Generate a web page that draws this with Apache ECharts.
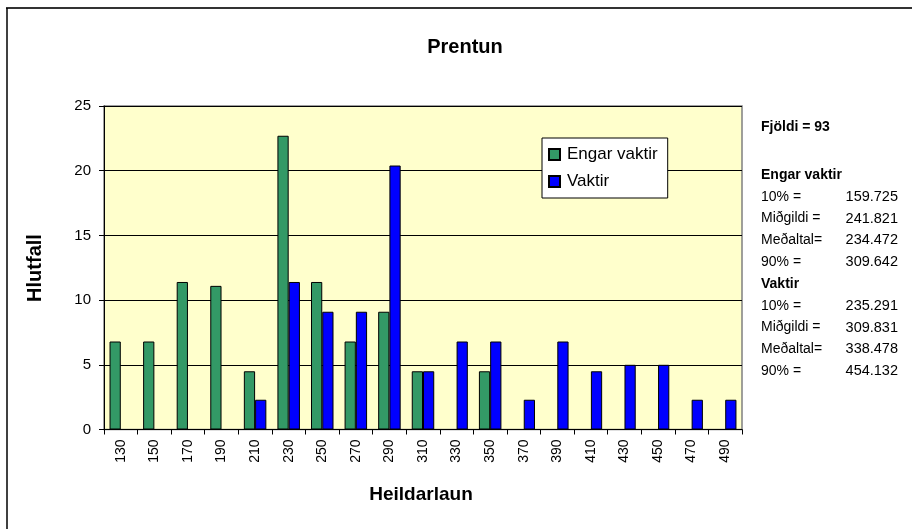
<!DOCTYPE html>
<html>
<head>
<meta charset="utf-8">
<script src="https://cdn.jsdelivr.net/npm/echarts@6/dist/echarts.min.js"></script>
<style>html,body{margin:0;padding:0;background:#fff}#c{width:912px;height:529px}</style>
</head>
<body>
<div id="c"></div>
<script>
const categories = ['130','150','170','190','210','230','250','270','290','310','330','350','370','390','410','430','450','470','490'];
const engarVaktir = [6.8, 6.8, 11.4, 11.1, 4.5, 22.7, 11.4, 6.8, 9.1, 4.5, 0, 4.5, 0, 0, 0, 0, 0, 0, 0];
const vaktir = [0, 0, 0, 0, 2.3, 11.4, 9.1, 9.1, 20.4, 4.5, 6.8, 6.8, 2.3, 6.8, 4.5, 5.0, 5.0, 2.3, 2.3];
const yTicks = [0, 5, 10, 15, 20, 25];
const statsHeader = 'Fjöldi = 93';
const statsEngarTitle = 'Engar vaktir';
const statsEngarLabels = ['10% =', 'Miðgildi =', 'Meðaltal=', '90% ='];
const statsEngarValues = ['159.725', '241.821', '234.472', '309.642'];
const statsVaktirTitle = 'Vaktir';
const statsVaktirLabels = ['10% =', 'Miðgildi =', 'Meðaltal=', '90% ='];
const statsVaktirValues = ['235.291', '309.831', '338.478', '454.132'];

const FONT = "'Liberation Sans', Arial, sans-serif";
const chart = echarts.init(document.getElementById('c'), null, {renderer: 'canvas'});

const graphics = [
  {type: 'line', shape: {x1: 6, y1: 8, x2: 912, y2: 8}, style: {stroke: '#333', lineWidth: 2}},
  {type: 'line', shape: {x1: 7, y1: 8, x2: 7, y2: 529}, style: {stroke: '#000', lineWidth: 1.5}},
  {type: 'text', x: 35, y: 268, rotation: Math.PI / 2, style: {text: 'Hlutfall', font: 'bold 20px ' + FONT, fill: '#000', textAlign: 'center', textVerticalAlign: 'middle'}},
  {type: 'text', x: 421, y: 495, style: {text: 'Heildarlaun', font: 'bold 19px ' + FONT, fill: '#000', textAlign: 'center', textVerticalAlign: 'middle'}}
];
const lineH = 21.8;
const sx = 761, vx = 898;
graphics.push({type: 'text', x: sx, y: 127, style: {text: statsHeader, font: 'bold 14px ' + FONT, fill: '#000', textVerticalAlign: 'middle'}});
graphics.push({type: 'text', x: sx, y: 175, style: {text: statsEngarTitle, font: 'bold 14px ' + FONT, fill: '#000', textVerticalAlign: 'middle'}});
statsEngarLabels.forEach((l, i) => {
  const y = 175 + lineH * (i + 1);
  graphics.push({type: 'text', x: sx, y: y, style: {text: l, font: '14px ' + FONT, fill: '#000', textVerticalAlign: 'middle'}});
  graphics.push({type: 'text', x: vx, y: y, style: {text: statsEngarValues[i], font: '14.5px ' + FONT, fill: '#000', textAlign: 'right', textVerticalAlign: 'middle'}});
});
const vy = 175 + lineH * 5;
graphics.push({type: 'text', x: sx, y: vy, style: {text: statsVaktirTitle, font: 'bold 14px ' + FONT, fill: '#000', textVerticalAlign: 'middle'}});
statsVaktirLabels.forEach((l, i) => {
  const y = vy + lineH * (i + 1);
  graphics.push({type: 'text', x: sx, y: y, style: {text: l, font: '14px ' + FONT, fill: '#000', textVerticalAlign: 'middle'}});
  graphics.push({type: 'text', x: vx, y: y, style: {text: statsVaktirValues[i], font: '14.5px ' + FONT, fill: '#000', textAlign: 'right', textVerticalAlign: 'middle'}});
});

chart.setOption({
  animation: false,
  backgroundColor: '#fff',
  textStyle: {fontFamily: FONT},
  title: {text: 'Prentun', left: 460, top: 32, textAlign: 'center', textStyle: {fontFamily: FONT, fontSize: 20, fontWeight: 'bold', color: '#000'}},
  grid: {left: 104, right: 170, top: 106, bottom: 99.5, show: true, backgroundColor: '#FFFFCC', borderColor: '#808080', borderWidth: 1.5},
  legend: {
    orient: 'vertical', left: 542, top: 138, padding: [8, 10, 8, 6], itemGap: 10,
    itemWidth: 11, itemHeight: 11, icon: 'rect',
    backgroundColor: '#fff', borderColor: '#000', borderWidth: 1,
    textStyle: {fontFamily: FONT, fontSize: 17, color: '#000', padding: [0, 0, 0, 2]},
    data: ['Engar vaktir', 'Vaktir']
  },
  xAxis: {
    type: 'category', data: categories,
    axisLine: {lineStyle: {color: '#000', width: 1}},
    axisTick: {show: true, length: 5, lineStyle: {color: '#000'}},
    axisLabel: {rotate: 90, fontSize: 14, color: '#000', margin: 10, fontFamily: FONT}
  },
  yAxis: {
    type: 'value', min: 0, max: 25, interval: 5,
    axisLine: {show: true, lineStyle: {color: '#000', width: 1}},
    axisTick: {show: true, length: 5, lineStyle: {color: '#000'}},
    axisLabel: {fontSize: 15, color: '#000', margin: 13, fontFamily: FONT, formatter: v => yTicks.includes(v) ? String(v) : ''},
    splitLine: {show: true, lineStyle: {color: '#000', width: 1}}
  },
  series: [
    {name: 'Engar vaktir', type: 'bar', data: engarVaktir, barGap: '0%', barCategoryGap: '33%',
     itemStyle: {color: '#339966', borderColor: '#000', borderWidth: 1}},
    {name: 'Vaktir', type: 'bar', data: vaktir, barGap: '0%', barCategoryGap: '33%',
     itemStyle: {color: '#0000FF', borderColor: '#000', borderWidth: 1}}
  ],
  graphic: graphics
});
</script>
</body>
</html>
